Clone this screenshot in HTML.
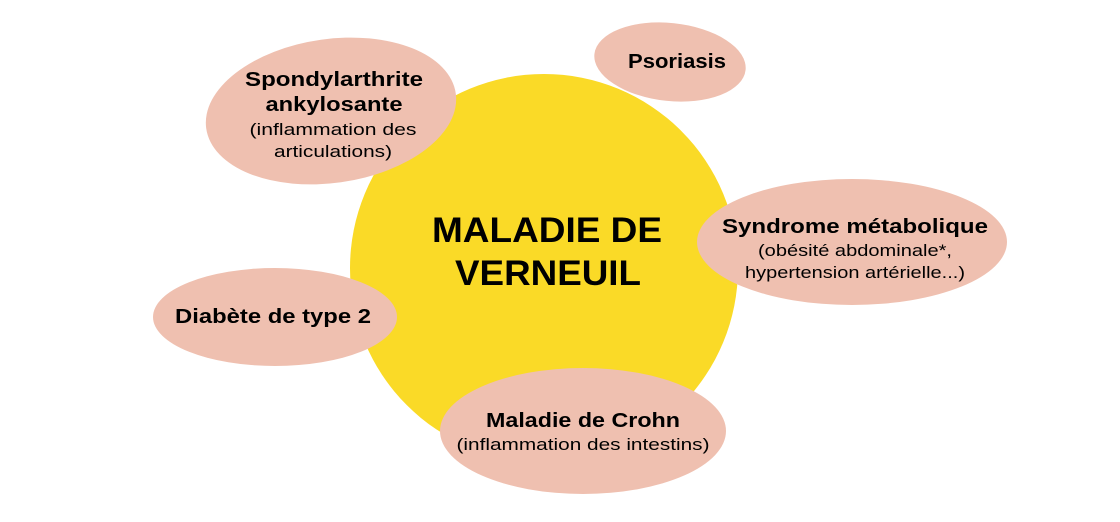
<!DOCTYPE html>
<html><head><meta charset="utf-8"><style>
html,body{margin:0;padding:0;background:#fff;}
svg{display:block;}
text{font-family:"Liberation Sans",sans-serif;fill:#000;}
.b{font-weight:bold;}
</style></head><body>
<svg width="1120" height="522" viewBox="0 0 1120 522">
<circle cx="544" cy="268" r="194" fill="#FADA27"/>
<ellipse cx="331" cy="111" rx="126" ry="72" transform="rotate(-8 331 111)" fill="#EFC0B0"/>
<ellipse cx="670" cy="62" rx="76" ry="39" transform="rotate(6 670 62)" fill="#EFC0B0"/>
<ellipse cx="852" cy="242" rx="155" ry="63" fill="#EFC0B0"/>
<ellipse cx="275" cy="317" rx="122" ry="49" fill="#EFC0B0"/>
<ellipse cx="583" cy="431" rx="143" ry="63" fill="#EFC0B0"/>
<g text-anchor="middle">
<text x="547" y="242" class="b" font-size="35" textLength="230" lengthAdjust="spacingAndGlyphs">MALADIE DE</text>
<text x="548" y="285" class="b" font-size="35" textLength="186" lengthAdjust="spacingAndGlyphs">VERNEUIL</text>
<text x="334" y="86" class="b" font-size="20" textLength="178" lengthAdjust="spacingAndGlyphs">Spondylarthrite</text>
<text x="334" y="111" class="b" font-size="20" textLength="137" lengthAdjust="spacingAndGlyphs">ankylosante</text>
<text x="333" y="135" font-size="17" textLength="167" lengthAdjust="spacingAndGlyphs">(inflammation des</text>
<text x="333" y="157" font-size="17" textLength="118" lengthAdjust="spacingAndGlyphs">articulations)</text>
<text x="677" y="68" class="b" font-size="20" textLength="98" lengthAdjust="spacingAndGlyphs">Psoriasis</text>
<text x="855" y="233" class="b" font-size="20" textLength="266" lengthAdjust="spacingAndGlyphs">Syndrome métabolique</text>
<text x="855" y="256" font-size="17" textLength="194" lengthAdjust="spacingAndGlyphs">(obésité abdominale*,</text>
<text x="855" y="278" font-size="17" textLength="220" lengthAdjust="spacingAndGlyphs">hypertension artérielle...)</text>
<text x="273" y="323" class="b" font-size="20" textLength="196" lengthAdjust="spacingAndGlyphs">Diabète de type 2</text>
<text x="583" y="427" class="b" font-size="20" textLength="194" lengthAdjust="spacingAndGlyphs">Maladie de Crohn</text>
<text x="583" y="450" font-size="17" textLength="253" lengthAdjust="spacingAndGlyphs">(inflammation des intestins)</text>
</g>
</svg>
</body></html>
